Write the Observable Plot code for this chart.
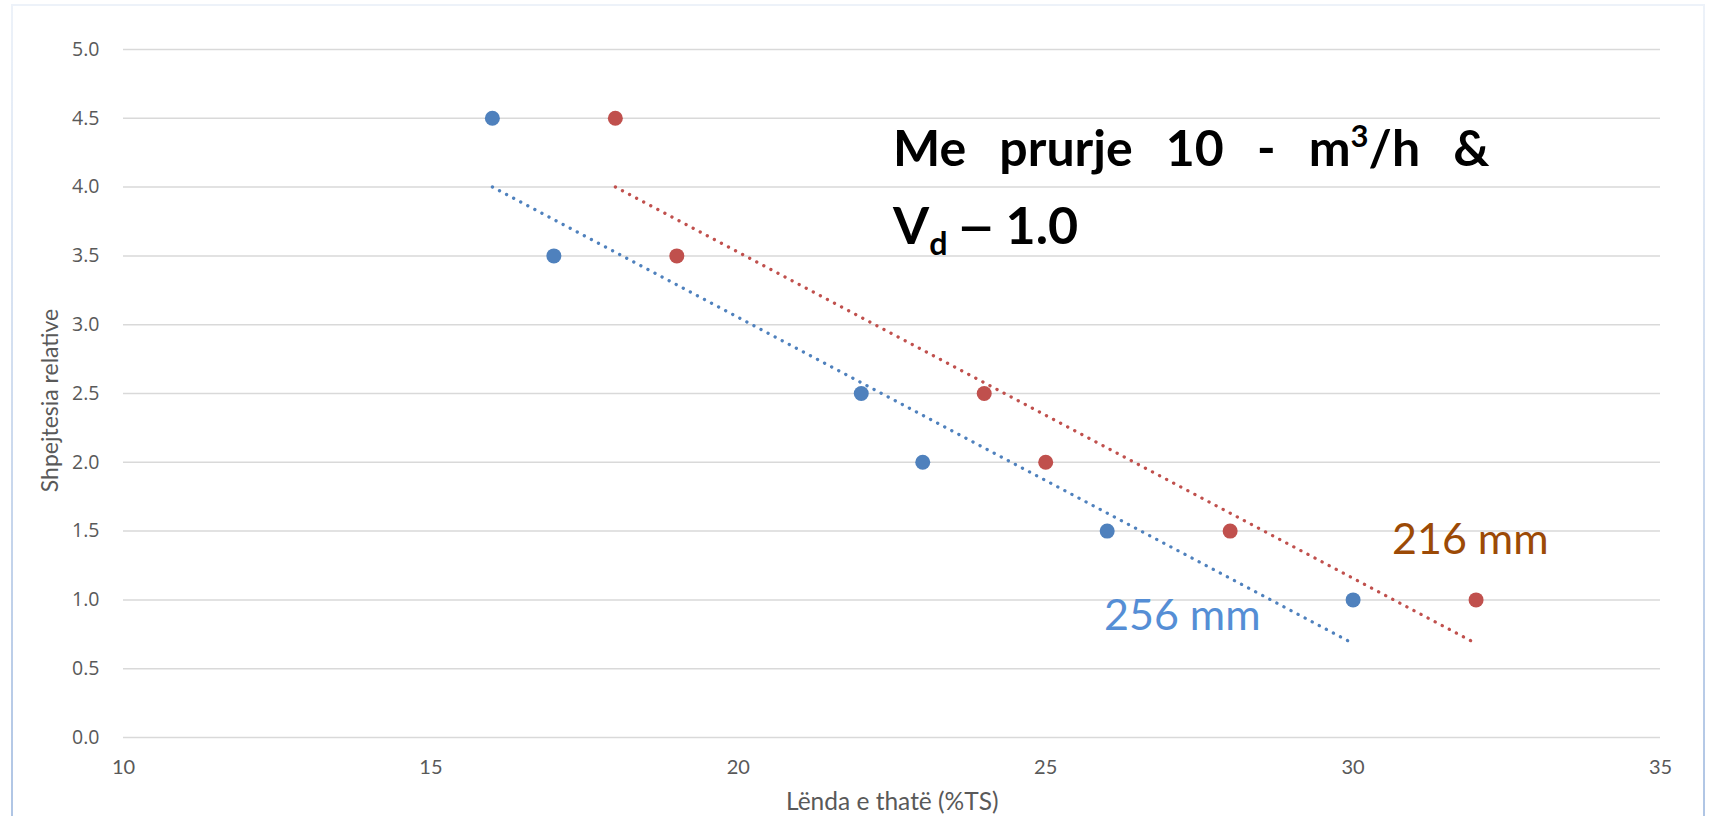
<!DOCTYPE html>
<html>
<head>
<meta charset="utf-8">
<script src="https://cdn.jsdelivr.net/npm/d3@7"></script>
<script src="https://cdn.jsdelivr.net/npm/@observablehq/plot@0.6"></script>
<style>
  html, body { margin: 0; padding: 0; background: #fff; }
  #wrap { position: relative; width: 1712px; height: 816px; overflow: hidden; }
  #border { position: absolute; left: 11px; top: 4px; width: 1694px; height: 830px;
            border: 2px solid; border-image: linear-gradient(to bottom, #edf2f9, #aec4e4) 1; box-sizing: border-box; pointer-events: none; }
  .title { position: absolute; font-family: Lato, "Open Sans", sans-serif; font-weight: 700; color: #000;
           font-size: 50px; white-space: pre; line-height: 1; word-spacing: 21px; }
  .title sup { font-size: 0.62em; vertical-align: 0.6em; line-height: 0; }
  .title sub { font-size: 0.62em; vertical-align: -0.35em; line-height: 0; }
  .dash { display: inline-block; transform: scaleX(1.35); margin: 0 14px 0 14px; }
  .lbl { position: absolute; font-family: Lato, "Open Sans", sans-serif; font-size: 43px; white-space: pre; line-height: 1; }
  .axt { position: absolute; font-family: Lato, "Open Sans", sans-serif; color: #595959; white-space: pre; line-height: 1; }
</style>
</head>
<body>
<div id="wrap"></div>
<script>
// Series: 256 mm (blue) and 216 mm (red)
const x256 = [16, 17, 22, 23, 26, 30];
const y256 = [4.5, 3.5, 2.5, 2.0, 1.5, 1.0];
const x216 = [18, 19, 24, 25, 28, 32];
const y216 = [4.5, 3.5, 2.5, 2.0, 1.5, 1.0];
const xTicks = [10, 15, 20, 25, 30, 35];
const yTicks = [0, 0.5, 1, 1.5, 2, 2.5, 3, 3.5, 4, 4.5, 5];
const seriesNames = ["256 mm", "216 mm"];
const xTitle = "Lënda e thatë (%TS)";
const yTitle = "Shpejtesia relative";

const blue = "#4F81BD", red = "#C0504D";
const d256 = x256.map((x, i) => ({x, y: y256[i], s: seriesNames[0]}));
const d216 = x216.map((x, i) => ({x, y: y216[i], s: seriesNames[1]}));

const W = 1712, H = 816;
const plot = Plot.plot({
  width: W, height: H,
  marginLeft: 123, marginRight: 52, marginTop: 49, marginBottom: 79,
  style: {fontFamily: "Lato, 'Open Sans', sans-serif", background: "transparent"},
  x: {domain: [10, 35], axis: null, label: null},
  y: {domain: [0, 5], axis: null, label: null},
  marks: [
    Plot.ruleY(yTicks, {stroke: "#d9d9d9", strokeWidth: 1.5}),
    Plot.axisX(xTicks, {tickSize: 0, tickPadding: 22, fontSize: 20, fill: "#595959", label: null, tickFormat: d => String(d)}),
    Plot.axisY(yTicks, {tickSize: 0, tickPadding: 24, fontSize: 19.5, fill: "#595959", label: null, tickFormat: d => d.toFixed(1), fontFamily: "'Open Sans', sans-serif"}),
    Plot.linearRegressionY(d256, {x: "x", y: "y", ci: 0, stroke: blue, strokeWidth: 3.3, strokeDasharray: "0.1,7.9", strokeLinecap: "round"}),
    Plot.linearRegressionY(d216, {x: "x", y: "y", ci: 0, stroke: red, strokeWidth: 3.3, strokeDasharray: "0.1,7.9", strokeLinecap: "round"}),
    Plot.dot(d256, {x: "x", y: "y", r: 7.5, fill: blue, stroke: "none"}),
    Plot.dot(d216, {x: "x", y: "y", r: 7.5, fill: red, stroke: "none"})
  ]
});

const wrap = document.getElementById("wrap");
wrap.appendChild(plot);

function addDiv(cls, html, css) {
  const el = document.createElement("div");
  el.className = cls;
  el.innerHTML = html;
  Object.assign(el.style, css);
  wrap.appendChild(el);
  return el;
}
addDiv("title", "Me prurje 10 - m<sup>3</sup>/h &amp;", {left: "893px", top: "122px"});
addDiv("title", "V<sub>d</sub><span class=\"dash\">–</span>1.0", {left: "893px", top: "198px", wordSpacing: "0", fontSize: "52px"});
addDiv("lbl", seriesNames[0], {left: "1104px", top: "592px", color: "#558ED5"});
addDiv("lbl", seriesNames[1], {left: "1392px", top: "516px", color: "#9C4A06"});
const xt = addDiv("axt", xTitle, {top: "789px", fontSize: "24.5px"});
xt.style.left = (892 - xt.offsetWidth / 2) + "px";
const yt = addDiv("axt", yTitle, {fontSize: "23px"});
yt.style.left = (49 - yt.offsetWidth / 2) + "px";
yt.style.top = (400 - yt.offsetHeight / 2) + "px";
yt.style.transform = "rotate(-90deg)";
const b = document.createElement("div"); b.id = "border"; wrap.appendChild(b);
</script>
</body>
</html>
